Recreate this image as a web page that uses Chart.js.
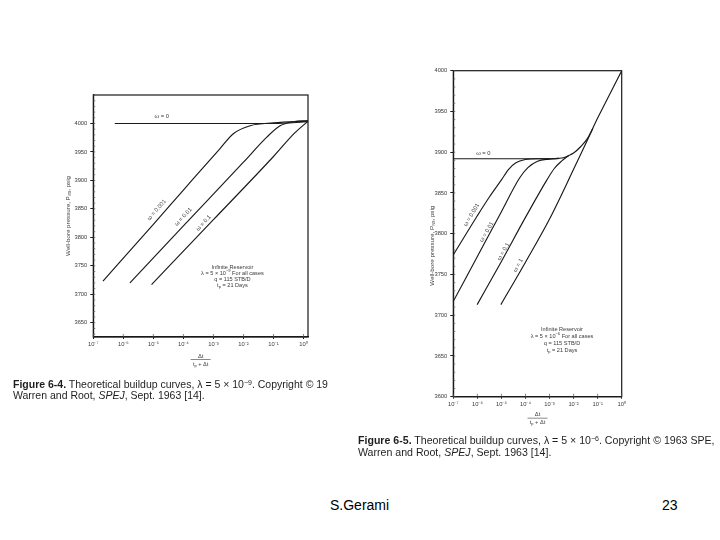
<!DOCTYPE html>
<html><head><meta charset="utf-8">
<script src="https://cdn.jsdelivr.net/npm/chart.js@4"></script>
<style>
body{margin:0;width:720px;height:540px;background:#fff;position:relative;overflow:hidden;font-family:'Liberation Sans',Arial,sans-serif;}
.cv{position:absolute;}
.cap{position:absolute;white-space:nowrap;overflow:hidden;color:#1e1e1e;font-size:10.5px;}
.cap div{height:11px;line-height:11px;}
.cap sup{font-size:7px;vertical-align:0;position:relative;top:-3.5px;line-height:0}
.foot{position:absolute;font-size:14px;line-height:16px;color:#000;}
</style></head><body>
<div class="cv" style="left:20px;top:80px;width:310px;height:300px"><canvas id="c1"></canvas></div>
<div class="cv" style="left:380px;top:55px;width:270px;height:390px"><canvas id="c2"></canvas></div>
<div class="cap" style="left:13px;top:379px;width:319px">
<div><b>Figure 6-4.</b> Theoretical buildup curves, λ = 5 × 10<sup>−9</sup>. Copyright © 19</div>
<div>Warren and Root, <i>SPEJ</i>, Sept. 1963 [14].</div>
</div>
<div class="cap" style="left:358px;top:434px;width:362px;font-size:10.6px">
<div style="height:12px;line-height:12px"><b>Figure 6-5.</b> Theoretical buildup curves, λ = 5 × 10<sup>−6</sup>. Copyright © 1963 SPE,</div>
<div style="height:12px;line-height:12px">Warren and Root, <i>SPEJ</i>, Sept. 1963 [14].</div>
</div>
<div class="foot" style="left:330px;top:497px">S.Gerami</div>
<div class="foot" style="left:662px;top:497px">23</div>
<script>
// ---------- shared axis data ----------
const xTickValues = [1e-7, 1e-6, 1e-5, 1e-4, 1e-3, 1e-2, 1e-1, 1];
const xTickLabels = ['10⁻⁷','10⁻⁶','10⁻⁵','10⁻⁴','10⁻³','10⁻²','10⁻¹','10⁰'];
const leftYTicks  = [3650, 3700, 3750, 3800, 3850, 3900, 3950, 4000];
const rightYTicks = [3600, 3650, 3700, 3750, 3800, 3850, 3900, 3950, 4000];

// ---------- Figure 6-4 (lambda = 5e-9) ----------
const L_w0_x    = [5.2e-7, 0.1, 1.41];
const L_w0_y    = [4000, 4000, 4003];
const L_w001_x  = [2.1e-7, 1e-5, 1e-4, 1.66e-3, 4.6e-3, 1.66e-2, 0.1, 1.41];
const L_w001_y  = [3723, 3823, 3883, 3956, 3982, 3996, 4001, 4004];
const L_w01_x   = [1.66e-6, 1e-4, 1e-2, 6.0e-2, 0.166, 0.457, 1.41];
const L_w01_y   = [3720, 3820, 3932, 3976, 3996, 4003, 4005];
const L_w1_x    = [8.7e-6, 1e-3, 0.1, 0.5, 1.41];
const L_w1_y    = [3717, 3831, 3942, 3983, 4004];

// ---------- Figure 6-5 (lambda = 5e-6) ----------
const R_w0_x    = [1e-7, 1e-3, 2.5e-3, 4.0e-3, 6.3e-3, 1e-2, 2.0e-2, 3.8e-2, 0.1, 1];
const R_w0_y    = [3892, 3892, 3892.5, 3893.5, 3896, 3899, 3907, 3917, 3942, 4000];
const R_w001_x  = [1e-7, 1e-6, 3.16e-6, 1e-5, 2.0e-5, 4.0e-5, 1e-4, 3.16e-4, 1e-3];
const R_w001_y  = [3774, 3822, 3845, 3866, 3879, 3887, 3891, 3892, 3892];
const R_w01_x   = [1e-7, 1e-6, 1e-5, 5.6e-5, 1.26e-4, 3.16e-4, 1e-3, 2.5e-3];
const R_w01_y   = [3717, 3772, 3827, 3868, 3881, 3889, 3891.5, 3892.5];
const R_w1_x    = [9.8e-7, 1e-5, 1e-4, 7.8e-4, 1.58e-3, 3.16e-3, 6.3e-3];
const R_w1_y    = [3713, 3766, 3820, 3866, 3880, 3889, 3896];
const R_w10_x   = [9.5e-6, 1e-4, 1e-3, 1e-2, 6.3e-2];
const R_w10_y   = [3713, 3765, 3818, 3879, 3929];

// ---------- annotations ----------
const leftLabels = [
  {t:'ω = 0',     x:1.9e-5,  y:4012, r:0},
  {t:'ω = 0.001', x:1.29e-5, y:3848, r:-49},
  {t:'ω = 0.01',  x:1e-4,    y:3836, r:-47},
  {t:'ω = 0.1',   x:4.7e-4,  y:3825, r:-47}
];
const rightLabels = [
  {t:'ω = 0',     x:1.78e-6, y:3898, r:0},
  {t:'ω = 0.001', x:5.75e-7, y:3823, r:-60},
  {t:'ω = 0.01',  x:2.45e-6, y:3802, r:-60},
  {t:'ω = 0.1',   x:1.2e-5,  y:3778, r:-60},
  {t:'ω = 1',     x:5e-5,    y:3761, r:-60}
];
const leftNote  = {x:4.3e-3, y:3748, lambda:'9'};
const rightNote = {x:3.3e-3, y:3683, lambda:'6'};

const FF = "'Liberation Sans', Arial, sans-serif";
const INK = '#1a1a1a';
const TXT = '#3a3a3a';

function pts(xs, ys){ return xs.map((v,i)=>({x:v, y:ys[i]})); }
function ds(xs, ys){
  return {data:pts(xs,ys), borderColor:INK, borderWidth:1.15, pointRadius:0,
          fill:false, cubicInterpolationMode:'monotone'};
}
function rich(ctx, runs, cx, cy, size){
  let w = 0;
  runs.forEach(r=>{ ctx.font = (r.s||r.u ? size*0.72 : size)+'px '+FF; r.w = ctx.measureText(r.t).width; w += r.w; });
  let x = cx - w/2;
  runs.forEach(r=>{
    ctx.font = (r.s||r.u ? size*0.72 : size)+'px '+FF;
    ctx.fillText(r.t, x, cy + (r.s ? size*0.3 : 0) - (r.u ? size*0.35 : 0));
    x += r.w;
  });
}

const figPlugin = {
  id:'fig',
  afterDraw(chart, args, o){
    const {ctx, chartArea:a, scales:{x, y}} = chart;
    ctx.save();
    ctx.strokeStyle = INK; ctx.lineWidth = 1.2;
    ctx.strokeRect(a.left, a.top, a.right-a.left, a.bottom-a.top);
    // minor y ticks every 10 psi, inside
    ctx.lineWidth = 0.7; ctx.strokeStyle = '#555';
    for (let v = Math.ceil(y.min/10)*10; v <= y.max; v += 10){
      const py = y.getPixelForValue(v);
      ctx.beginPath(); ctx.moveTo(a.left, py); ctx.lineTo(a.left+2, py); ctx.stroke();
    }
    // decade ticks on x, inside
    xTickValues.forEach(v=>{
      const px = x.getPixelForValue(v);
      if (px < a.left || px > a.right) return;
      ctx.beginPath(); ctx.moveTo(px, a.bottom); ctx.lineTo(px, a.bottom-3); ctx.stroke();
    });
    ctx.fillStyle = TXT; ctx.textBaseline = 'middle'; ctx.textAlign = 'left';
    // curve labels
    o.labels.forEach(l=>{
      ctx.save();
      ctx.translate(x.getPixelForValue(l.x), y.getPixelForValue(l.y));
      ctx.rotate(l.r*Math.PI/180);
      rich(ctx, [{t:l.t}], 0, 0, 5.8);
      ctx.restore();
    });
    // info block
    const nx = x.getPixelForValue(o.note.x), ny = y.getPixelForValue(o.note.y);
    const lh = o.lh;
    rich(ctx, [{t:'Infinite Reservoir'}], nx, ny, 5.6);
    rich(ctx, [{t:'λ = 5 × 10'},{t:'−'+o.note.lambda, u:1},{t:' For all cases'}], nx, ny+lh, 5.6);
    rich(ctx, [{t:'q = 115 STB/D'}], nx, ny+2*lh, 5.6);
    rich(ctx, [{t:'t'},{t:'p', s:1},{t:' = 21 Days'}], nx, ny+3*lh, 5.6);
    // y axis title
    ctx.save();
    ctx.translate(a.left - o.ytOff, (a.top+a.bottom)/2 + o.ytShift);
    ctx.rotate(-Math.PI/2);
    rich(ctx, [{t:'Well-bore pressure, P'},{t:'ws', s:1},{t:', psig'}], 0, 0, 6.2);
    ctx.restore();
    // x axis title (fraction)
    const cx = (a.left+a.right)/2, by = a.bottom + o.xtOff;
    rich(ctx, [{t:'Δt'}], cx, by, 5.8);
    ctx.lineWidth = 0.6; ctx.strokeStyle = TXT;
    ctx.beginPath(); ctx.moveTo(cx-10, by+3.5); ctx.lineTo(cx+10, by+3.5); ctx.stroke();
    rich(ctx, [{t:'t'},{t:'p', s:1},{t:' + Δt'}], cx, by+8, 5.6);
    ctx.restore();
  }
};

function makeChart(id, sets, xmax, ymin, ymax, yTicks, pad, yW, xH, fig){
  return new Chart(document.getElementById(id), {
    type:'line',
    data:{datasets:sets},
    plugins:[figPlugin],
    options:{
      responsive:true, maintainAspectRatio:false, animation:false,
      layout:{padding:pad},
      plugins:{legend:{display:false}, tooltip:{enabled:false}, fig:fig},
      scales:{
        x:{type:'logarithmic', min:1e-7, max:xmax,
           afterBuildTicks:s=>{ s.ticks = xTickValues.map(v=>({value:v})); },
           afterFit:s=>{ s.height = xH; },
           ticks:{autoSkip:false, maxRotation:0, font:{size:5.8, family:FF}, color:TXT, padding:2,
                  callback:(v)=>{ const i = xTickValues.findIndex(t=>Math.abs(Math.log10(t)-Math.log10(v))<1e-6); return i<0?'':xTickLabels[i]; }},
           grid:{display:true, drawOnChartArea:false, tickLength:2, color:INK},
           border:{display:true, color:INK, width:1.2}},
        y:{type:'linear', min:ymin, max:ymax,
           afterBuildTicks:s=>{ s.ticks = yTicks.map(v=>({value:v})); },
           afterFit:s=>{ s.width = yW; },
           ticks:{autoSkip:false, font:{size:5.8, family:FF}, color:TXT, padding:3, callback:v=>String(v)},
           grid:{display:true, drawOnChartArea:false, tickLength:3, color:INK},
           border:{display:true, color:INK, width:1.2}}
      }
    }
  });
}

makeChart('c1',
  [ds(L_w0_x,L_w0_y), ds(L_w001_x,L_w001_y), ds(L_w01_x,L_w01_y), ds(L_w1_x,L_w1_y)],
  1.41, 3625, 4050, leftYTicks,
  {left:0, right:22, top:15, bottom:0}, 73.3, 43,
  {labels:leftLabels, note:leftNote, lh:6.2, ytOff:25, ytShift:0, xtOff:19});

makeChart('c2',
  [ds(R_w0_x,R_w0_y), ds(R_w001_x,R_w001_y), ds(R_w01_x,R_w01_y), ds(R_w1_x,R_w1_y), ds(R_w10_x,R_w10_y)],
  1, 3600, 4000, rightYTicks,
  {left:0, right:28.3, top:15.7, bottom:0}, 73.3, 48.3,
  {labels:rightLabels, note:rightNote, lh:7, ytOff:21, ytShift:12, xtOff:18});
</script>
</body></html>
